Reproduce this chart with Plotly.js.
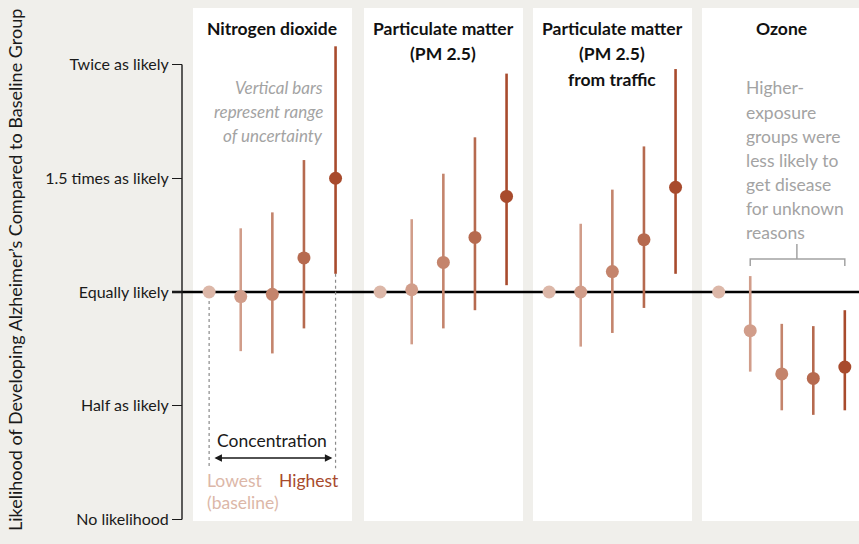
<!DOCTYPE html>
<html>
<head>
<meta charset="utf-8">
<script src="https://cdn.plot.ly/plotly-3.0.1.min.js"></script>
<style>html,body{margin:0;padding:0;background:#f0efeb;}#chart{width:859px;height:544px;}</style>
</head>
<body>
<div id="chart"></div>
<script>
// ---- data ----
var panelTitles = [["Nitrogen dioxide"], ["Particulate matter", "(PM 2.5)"], ["Particulate matter", "(PM 2.5)", "from traffic"], ["Ozone"]];
var levels = [0, 1, 2, 3, 4]; // concentration groups, lowest (baseline) to highest
var tickVals = [0, 0.5, 1, 1.5, 2];
var tickLabels = ["No likelihood", "Half as likely", "Equally likely", "1.5 times as likely", "Twice as likely"];

var no2Est = [1.00, 0.98, 0.99, 1.15, 1.50];
var no2Lo  = [null, 0.74, 0.73, 0.84, 1.08];
var no2Hi  = [null, 1.28, 1.35, 1.58, 2.08];

var pmEst = [1.00, 1.01, 1.13, 1.24, 1.42];
var pmLo  = [null, 0.77, 0.84, 0.92, 1.03];
var pmHi  = [null, 1.32, 1.52, 1.68, 1.96];

var trafficEst = [1.00, 1.00, 1.09, 1.23, 1.46];
var trafficLo  = [null, 0.76, 0.82, 0.93, 1.08];
var trafficHi  = [null, 1.30, 1.45, 1.64, 1.98];

var ozoneEst = [1.00, 0.83, 0.64, 0.62, 0.67];
var ozoneLo  = [null, 0.65, 0.48, 0.46, 0.48];
var ozoneHi  = [null, 1.07, 0.86, 0.85, 0.92];

var uncertaintyNote = ["Vertical bars", "represent range", "of uncertainty"];
var ozoneNote = ["Higher-", "exposure", "groups were", "less likely to", "get disease", "for unknown", "reasons"];

// ---- styling ----
var levelColors = ["#dcb7a8", "#d19d8a", "#c4846c", "#b66a4f", "#a84b2d"];
var FONT = 'Lato, "Open Sans", sans-serif';
var INK = '#1a1a1a';
var NOTE = '#a3a3a3';

var panels = [
  {est: no2Est, lo: no2Lo, hi: no2Hi},
  {est: pmEst, lo: pmLo, hi: pmHi},
  {est: trafficEst, lo: trafficLo, hi: trafficHi},
  {est: ozoneEst, lo: ozoneLo, hi: ozoneHi}
];

var traces = [];
panels.forEach(function(p, pi) {
  var xa = pi === 0 ? 'x' : 'x' + (pi + 1);
  levels.forEach(function(lv, i) {
    var hasErr = p.lo[i] !== null;
    traces.push({
      type: 'scatter', mode: 'markers',
      x: [lv], y: [p.est[i]],
      xaxis: xa, yaxis: 'y',
      marker: {size: 13, color: levelColors[i]},
      error_y: {
        type: 'data', symmetric: false, visible: hasErr,
        array: [hasErr ? p.hi[i] - p.est[i] : 0],
        arrayminus: [hasErr ? p.est[i] - p.lo[i] : 0],
        color: levelColors[i], thickness: 2.6, width: 0
      },
      cliponaxis: false, hoverinfo: 'skip', showlegend: false
    });
  });
});

var W = 677; // plot width in px (859 - 182)
var H = 513; // plot height in px
function px(v){ return v / W; }
function py(ypx){ return (521 - ypx) / H; } // page pixel y -> paper y
var domains = [[px(11), px(170)], [px(182), px(341)], [px(351), px(510)], [px(520), 1]];
var ranges = [[-0.51, 4.52], [-0.51, 4.52], [-0.51, 4.52], [-0.53, 4.45]];

var layout = {
  width: 859, height: 544,
  margin: {l: 182, r: 0, t: 8, b: 23, pad: 0},
  paper_bgcolor: '#f0efeb', plot_bgcolor: '#ffffff',
  font: {family: FONT, color: INK, size: 16},
  showlegend: false,
  yaxis: {
    range: [-0.0066, 2.2484], anchor: 'free', position: 0,
    tickvals: tickVals, ticktext: tickLabels,
    ticks: 'outside', ticklen: 10, tickwidth: 1.3, tickcolor: INK,
    showgrid: false, zeroline: false, showline: false,
    tickfont: {family: FONT, size: 16, color: INK}, fixedrange: true
  },
  shapes: [
    {type: 'line', xref: 'paper', yref: 'y', x0: 0, x1: 0, y0: 0, y1: 2, line: {color: INK, width: 1.4}},
    {type: 'line', xref: 'paper', yref: 'y', x0: px(-10), x1: 1, y0: 1, y1: 1, line: {color: '#000', width: 2.6}, layer: 'below'},
    {type: 'line', xref: 'x', yref: 'y', x0: 0, x1: 0, y0: 0.96, y1: 0.225, line: {color: '#8a8a8a', width: 1.2, dash: 'dot'}},
    {type: 'line', xref: 'x', yref: 'y', x0: 4, x1: 4, y0: 1.08, y1: 0.225, line: {color: '#8a8a8a', width: 1.2, dash: 'dot'}, layer: 'below'},
    {type: 'path', xref: 'x4', yref: 'y', path: 'M1,1.114 L1,1.145 L4,1.145 L4,1.114 M2.48,1.145 L2.48,1.211', line: {color: NOTE, width: 1.5}}
  ],
  annotations: [
    {xref: 'paper', yref: 'paper', x: px(15 - 182), xanchor: 'center', y: py(270), yanchor: 'middle', textangle: -90, showarrow: false,
     text: "Likelihood of Developing Alzheimer’s Compared to Baseline Group", font: {size: 18, color: INK}},
    {xref: 'x', yref: 'paper', x: 2, y: py(440), yanchor: 'middle', showarrow: false, text: "Concentration", font: {size: 17.5, color: INK}},
    {xref: 'x', yref: 'y', x: 3.9, y: 0.27, ax: 0.12, ay: 0.27, axref: 'x', ayref: 'y', text: '', showarrow: true,
     arrowhead: 2, startarrowhead: 2, arrowside: 'end+start', arrowsize: 1, arrowwidth: 1.5, arrowcolor: INK},
    {xref: 'x', yref: 'paper', x: -0.13, xanchor: 'left', y: py(480), yanchor: 'middle', showarrow: false,
     text: "Lowest", font: {size: 17.5, color: levelColors[0]}},
    {xref: 'x', yref: 'paper', x: -0.13, xanchor: 'left', y: py(502), yanchor: 'middle', showarrow: false,
     text: "(baseline)", font: {size: 17.5, color: levelColors[0]}},
    {xref: 'x', yref: 'paper', x: 4.17, xanchor: 'right', y: py(480), yanchor: 'middle', showarrow: false,
     text: "Highest", font: {size: 17.5, color: levelColors[4]}}
  ]
};

var noteY = [87, 111, 135];
uncertaintyNote.forEach(function(t, i) {
  layout.annotations.push({xref: 'x', yref: 'paper', x: 3.67, xanchor: 'right', y: py(noteY[i]), yanchor: 'middle', showarrow: false,
    text: '<i>' + t + '</i>', font: {size: 17, color: NOTE}});
});
var ozY = [87.5, 112, 136, 160, 184, 208, 232];
ozoneNote.forEach(function(t, i) {
  layout.annotations.push({xref: 'x4', yref: 'paper', x: 0.8, xanchor: 'left', y: py(ozY[i]), yanchor: 'middle', showarrow: false,
    text: t, font: {size: 17.5, color: NOTE}});
});

var titleY = [28, 53.5, 79];
panelTitles.forEach(function(lines, i) {
  var key = i === 0 ? 'xaxis' : 'xaxis' + (i + 1);
  layout[key] = {domain: domains[i], range: ranges[i], anchor: 'y', visible: false, fixedrange: true};
  lines.forEach(function(t, j) {
    layout.annotations.push({
      xref: key.replace('axis', ''), yref: 'paper', x: 2, xanchor: 'center', y: py(titleY[j]), yanchor: 'middle', showarrow: false,
      text: '<b>' + t + '</b>', font: {size: 17.5, color: '#111'}
    });
  });
});

Plotly.newPlot('chart', traces, layout, {displayModeBar: false, staticPlot: true});
</script>
</body>
</html>
